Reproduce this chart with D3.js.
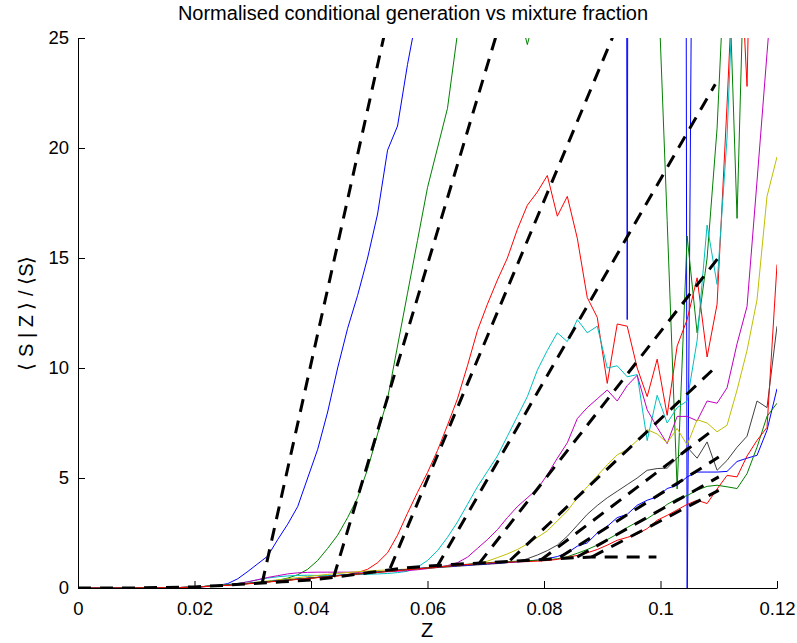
<!DOCTYPE html>
<html>
<head>
<meta charset="utf-8">
<script src="https://cdn.jsdelivr.net/npm/d3@7"></script>
<style>
  body { margin: 0; background: #fff; }
  svg { display: block; }
  text { font-family: "Liberation Sans", Arial, sans-serif; }
</style>
</head>
<body>
<svg id="chart" width="797" height="643"></svg>
<script>
// Z grid shared by all conditional profiles (71 bins over 0..0.12)
const zGrid = d3.range(71).map(i => i * 0.12 / 70);

const xTicks = [0, 0.02, 0.04, 0.06, 0.08, 0.1, 0.12];
const xTickLabels = ['0', '0.02', '0.04', '0.06', '0.08', '0.1', '0.12'];
const yTicks = [0, 5, 10, 15, 20, 25];
const yTickLabels = ['0', '5', '10', '15', '20', '25'];

// <S|Z>/<S> profiles, one per time
const sBlue1 = [0, 0, 0, 0, 0, 0, 0.005, 0.008, 0.01, 0.015, 0.02, 0.03, 0.05, 0.08, 0.12, 0.2,
  0.42, 0.75, 1.1, 1.45, 2.2, 2.9, 3.7, 5.0, 6.3, 8.0, 10.0, 11.8, 13.3, 15.0, 17.0, 19.9, 21.0, 23.8,
  26.2, 31, 36, 40, 44, 48, 52, 55, 58, 62, 66, 70, 75, 80, 86, 92, 98, 105, 112, 120,
  300, 12.2, 300, 150, 160, 170, 300, -1, 64, 180, 190, 200, 210, 220, 230, 240, 250];
const sGreen1 = [0, 0, 0, 0, 0, 0, 0.005, 0.008, 0.01, 0.015, 0.02, 0.03, 0.05, 0.08, 0.11, 0.14,
  0.17, 0.21, 0.25, 0.3, 0.35, 0.45, 0.6, 0.85, 1.25, 1.8, 2.4, 3.2, 4.1, 5.4, 7.0,
  8.6, 11.0, 13.4, 15.8, 18.2, 20.0, 21.8, 25.2, 29, 33, 36, 38, 34, 26.5, 24.7,
  26.5, 34, 40, 45, 48, 50, 52, 54, 56, 58, 60, 45, 28.7, 16.7, 4.5,
  16, 11.6, 15, 20.9, 30.7, 16.8, 33.5, 45, 55, 65];
const sRed1 = [0, 0, 0, 0, 0, 0, 0.005, 0.008, 0.01, 0.015, 0.02, 0.03, 0.05, 0.07, 0.1, 0.13,
  0.16, 0.2, 0.24, 0.28, 0.32, 0.36, 0.4, 0.44, 0.48, 0.52, 0.56, 0.62, 0.7, 0.85, 1.15,
  1.6, 2.4, 3.4, 4.35, 5.25, 6.25, 7.4, 8.6, 10.1, 11.7, 12.9, 14.0, 15.0, 16.3, 17.4,
  18.0, 18.75, 16.9, 17.8, 15.9, 13.2, 12.3, 9.3, 12.0, 11.9, 10.0, 8.7, 10.4, 7.85, 11.0,
  12.2, 14.1, 10.5, 12.9, 22, 32, 22.8, 45, 55, 65];
const sCyan1 = [0, 0, 0, 0, 0, 0, 0.005, 0.008, 0.01, 0.015, 0.02, 0.03, 0.05, 0.08, 0.12, 0.16,
  0.21, 0.28, 0.37, 0.45, 0.51, 0.55, 0.57, 0.58, 0.57, 0.57, 0.58, 0.6, 0.61, 0.62, 0.64,
  0.66, 0.7, 0.76, 0.95, 1.25, 1.7, 2.3, 3.0, 3.8, 4.6, 5.3, 6.0, 6.9, 7.8, 8.7,
  9.9, 10.8, 11.6, 11.2, 12.2, 11.6, 11.9, 10.0, 10.1, 9.6, 9.7, 6.7, 8.76, 7.5, 8.2,
  8.5, 11.25, 16.5, 13.8, 20.5, 32, 45, 55, 60, 65];
const sMagenta1 = [0, 0, 0, 0, 0, 0, 0.004, 0.007, 0.01, 0.015, 0.02, 0.03, 0.05, 0.08, 0.11, 0.15,
  0.2, 0.28, 0.38, 0.48, 0.56, 0.64, 0.69, 0.71, 0.72, 0.72, 0.72, 0.72, 0.72, 0.73, 0.73,
  0.74, 0.76, 0.79, 0.83, 0.88, 0.94, 1.02, 1.15, 1.4, 1.8, 2.2, 2.65, 3.2, 3.7, 4.1,
  4.5, 5.15, 5.9, 6.6, 7.7, 8.2, 8.6, 9.0, 8.5, 9.2, 9.67, 8.1, 7.3, 6.56, 7.8,
  7.8, 7.6, 8.5, 8.4, 9.1, 11.1, 12.8, 18.5, 24.3, 30];
const sYellow1 = [0, 0, 0, 0, 0, 0, 0.005, 0.008, 0.01, 0.015, 0.02, 0.03, 0.05, 0.08, 0.11, 0.14,
  0.18, 0.22, 0.27, 0.32, 0.37, 0.42, 0.47, 0.52, 0.57, 0.62, 0.66, 0.7, 0.74, 0.77, 0.8,
  0.82, 0.84, 0.86, 0.88, 0.9, 0.93, 0.96, 1.0, 1.05, 1.12, 1.22, 1.38, 1.55, 1.75, 2.0,
  2.3, 2.6, 3.05, 3.5, 4.1, 4.6, 5.1, 5.6, 6.05, 6.3, 6.7, 7.2, 7.0, 6.6, 7.25,
  6.5, 7.65, 7.5, 7.1, 7.4, 9.0, 10.8, 13.1, 17.8, 19.6];
const sBlack1 = [0, 0, 0, 0, 0, 0, 0.005, 0.008, 0.01, 0.015, 0.02, 0.03, 0.05, 0.08, 0.11, 0.14,
  0.17, 0.2, 0.24, 0.28, 0.32, 0.36, 0.4, 0.44, 0.48, 0.52, 0.56, 0.6, 0.64, 0.68, 0.72,
  0.76, 0.8, 0.84, 0.87, 0.9, 0.93, 0.96, 0.99, 1.02, 1.05, 1.08, 1.11, 1.15, 1.2, 1.33,
  1.5, 1.7, 1.95, 2.35, 2.85, 3.35, 3.75, 4.1, 4.4, 4.7, 5.0, 5.35, 5.43, 5.45, 5.9,
  6.4, 5.9, 6.64, 5.35, 5.8, 6.4, 6.9, 8.5, 8.2, 11.9];
const sBlue2 = [0, 0, 0, 0, 0, 0, 0.005, 0.008, 0.01, 0.015, 0.02, 0.03, 0.05, 0.07, 0.1, 0.13,
  0.17, 0.21, 0.25, 0.29, 0.33, 0.37, 0.41, 0.45, 0.49, 0.53, 0.57, 0.61, 0.65, 0.69, 0.73,
  0.77, 0.81, 0.85, 0.89, 0.92, 0.95, 0.98, 1.01, 1.04, 1.07, 1.1, 1.13, 1.16, 1.19, 1.22,
  1.27, 1.33, 1.43, 1.6, 1.9, 2.05, 2.5, 2.8, 3.2, 3.35, 3.76, 3.99, 4.14, 4.52, 4.67,
  5.05, 5.27, 5.27, 5.27, 5.3, 5.75, 5.9, 6.03, 7.17, 9.06];
const sGreen2 = [0, 0, 0, 0, 0, 0, 0.005, 0.008, 0.01, 0.015, 0.02, 0.03, 0.05, 0.08, 0.11, 0.14,
  0.16, 0.2, 0.24, 0.28, 0.32, 0.36, 0.4, 0.44, 0.48, 0.52, 0.56, 0.6, 0.64, 0.68, 0.72,
  0.76, 0.8, 0.84, 0.88, 0.92, 0.96, 1.0, 1.04, 1.08, 1.12, 1.15, 1.18, 1.2, 1.22, 1.24,
  1.26, 1.28, 1.33, 1.42, 1.58, 1.75, 1.95, 2.2, 2.45, 2.75, 3.0, 3.15, 3.45, 3.8, 4.06,
  4.2, 4.45, 4.62, 4.67, 4.6, 4.52, 5.2, 6.4, 7.8, 8.4];
const sRed2 = [0, 0, 0, 0, 0, 0, 0.005, 0.008, 0.01, 0.015, 0.02, 0.03, 0.05, 0.07, 0.1, 0.12,
  0.15, 0.19, 0.23, 0.27, 0.31, 0.35, 0.39, 0.43, 0.47, 0.51, 0.55, 0.59, 0.63, 0.67, 0.71,
  0.75, 0.79, 0.83, 0.87, 0.91, 0.95, 0.99, 1.03, 1.07, 1.1, 1.13, 1.15, 1.17, 1.19, 1.2,
  1.22, 1.25, 1.3, 1.4, 1.48, 1.6, 1.75, 1.95, 2.17, 2.3, 2.45, 2.7, 3.08, 3.3, 3.55,
  3.8, 3.99, 3.84, 4.5, 5.12, 5.05, 6.0, 6.71, 7.3, 14.7];

const profiles = [sBlue1, sGreen1, sRed1, sCyan1, sMagenta1, sYellow1, sBlack1, sBlue2, sGreen2, sRed2];
const profileColors = ['#0000ff', '#008000', '#ff0000', '#00bfbf', '#bf00bf', '#bfbf00', '#404040',
  '#0000ff', '#008000', '#ff0000'];

// linear fits (dashed): start and end points
const fitZ0 = [0.0316, 0.0439, 0.0536, 0.0616, 0.0688, 0.0742, 0.0794, 0.0828, 0.0857, 0.0882];
const fitS0 = [0.2, 0.5, 0.9, 0.95, 1.1, 1.26, 1.26, 1.41, 1.41, 1.41];
const fitZ1 = [0.0533, 0.0728, 0.0933, 0.1094, 0.1099, 0.1099, 0.1091, 0.11, 0.11, 0.11];
const fitS1 = [26, 26, 26, 22.9, 15.0, 10.15, 7.2, 5.95, 5.05, 4.44];

// dashed base curve
const baseZ = [0, 0.01, 0.02, 0.025, 0.03, 0.035, 0.04, 0.045, 0.05, 0.055, 0.06, 0.065,
  0.07, 0.075, 0.08, 0.085, 0.0882, 0.0993];
const baseS = [0, 0, 0.05, 0.12, 0.2, 0.28, 0.36, 0.52, 0.7, 0.88, 1.0, 1.08,
  1.15, 1.22, 1.3, 1.37, 1.41, 1.41];

const svg = d3.select('#chart');
const x = d3.scaleLinear().domain([0, 0.12]).range([78, 777]);
const y = d3.scaleLinear().domain([0, 25]).range([588, 38]);

svg.append('defs').append('clipPath').attr('id', 'plotClip')
  .append('rect')
  .attr('x', 78).attr('y', 38)
  .attr('width', 699).attr('height', 550);

const plot = svg.append('g').attr('clip-path', 'url(#plotClip)');

const profileLine = d3.line()
  .x((d, i) => x(zGrid[i]))
  .y(d => y(d));

profiles.forEach((vals, k) => {
  plot.append('path')
    .attr('d', profileLine(vals))
    .attr('fill', 'none')
    .attr('stroke', profileColors[k])
    .attr('stroke-width', 1);
});

const ptLine = d3.line().x(d => x(d[0])).y(d => y(d[1]));

plot.append('path')
  .attr('d', ptLine(baseZ.map((z, i) => [z, baseS[i]])))
  .attr('fill', 'none')
  .attr('stroke', '#000')
  .attr('stroke-width', 3)
  .attr('stroke-dasharray', '13,9');

fitZ0.forEach((z0, i) => {
  plot.append('path')
    .attr('d', ptLine([[z0, fitS0[i]], [fitZ1[i], fitS1[i]]]))
    .attr('fill', 'none')
    .attr('stroke', '#000')
    .attr('stroke-width', 3)
    .attr('stroke-dasharray', '13,9');
});

// axes, ticks inside
const xAxis = svg.append('g')
  .attr('transform', 'translate(0,588)')
  .call(d3.axisBottom(x)
    .tickValues(xTicks)
    .tickFormat((d, i) => xTickLabels[i])
    .tickSizeInner(-7)
    .tickSizeOuter(0)
    .tickPadding(14));

const yAxis = svg.append('g')
  .attr('transform', 'translate(78,0)')
  .call(d3.axisLeft(y)
    .tickValues(yTicks)
    .tickFormat((d, i) => yTickLabels[i])
    .tickSizeInner(-7)
    .tickSizeOuter(0)
    .tickPadding(9));

[xAxis, yAxis].forEach(g => {
  g.select('.domain').attr('stroke', '#000').attr('stroke-width', 1);
  g.selectAll('.tick line').attr('stroke', '#000');
  g.selectAll('.tick text')
    .attr('fill', '#000')
    .style('font-size', '18.5px')
    .style('font-family', '"Liberation Sans", Arial, sans-serif');
});

svg.append('text')
  .attr('x', 413).attr('y', 20)
  .attr('text-anchor', 'middle')
  .style('font-size', '20px')
  .text('Normalised conditional generation vs mixture fraction');

svg.append('text')
  .attr('x', 427).attr('y', 637)
  .attr('text-anchor', 'middle')
  .style('font-size', '20px')
  .text('Z');

svg.append('text')
  .attr('transform', 'translate(33,313) rotate(-90)')
  .attr('text-anchor', 'middle')
  .style('font-size', '20px')
  .text('⟨ S | Z ⟩ / ⟨S⟩');
</script>
</body>
</html>
